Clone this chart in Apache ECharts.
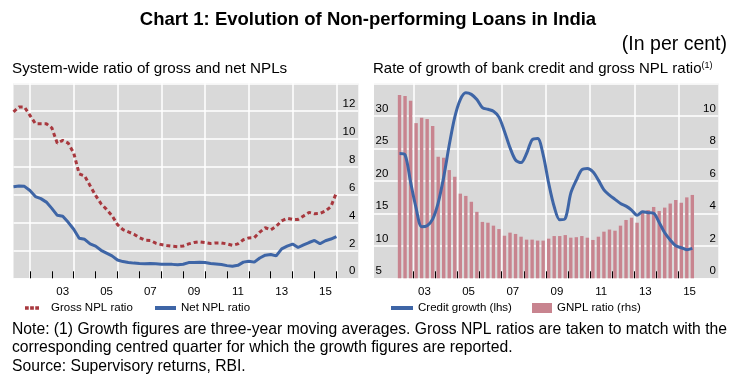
<!DOCTYPE html>
<html><head><meta charset="utf-8">
<script src="https://cdn.jsdelivr.net/npm/echarts@6/dist/echarts.min.js"></script>
<style>html,body{margin:0;padding:0;background:#fff}#c{width:736px;height:383px}</style>
</head><body><div id="c"></div>
<script>
// ---- Left panel: quarterly system-wide NPL ratios (quarter-end) ----
const leftQuarters = [
 "2001Q1","2001Q2","2001Q3","2001Q4","2002Q1","2002Q2","2002Q3","2002Q4",
 "2003Q1","2003Q2","2003Q3","2003Q4","2004Q1","2004Q2","2004Q3","2004Q4",
 "2005Q1","2005Q2","2005Q3","2005Q4","2006Q1","2006Q2","2006Q3","2006Q4",
 "2007Q1","2007Q2","2007Q3","2007Q4","2008Q1","2008Q2","2008Q3","2008Q4",
 "2009Q1","2009Q2","2009Q3","2009Q4","2010Q1","2010Q2","2010Q3","2010Q4",
 "2011Q1","2011Q2","2011Q3","2011Q4","2012Q1","2012Q2","2012Q3","2012Q4",
 "2013Q1","2013Q2","2013Q3","2013Q4","2014Q1","2014Q2","2014Q3","2014Q4",
 "2015Q1","2015Q2","2015Q3","2015Q4"];
const grossNPL = [11.95,12.3,12.3,11.7,11.1,11.1,11.1,10.8,9.7,9.9,
 9.7,9.0,7.5,7.35,6.65,5.95,5.35,4.95,4.5,3.85,
 3.5,3.33,3.17,2.92,2.74,2.72,2.52,2.42,2.35,2.3,
 2.27,2.32,2.47,2.57,2.62,2.57,2.5,2.54,2.54,2.47,
 2.37,2.47,2.77,2.9,2.92,3.32,3.63,3.47,3.73,4.13,
 4.3,4.23,4.23,4.48,4.73,4.63,4.66,4.83,5.15,6.15];
const netNPL = [6.57,6.62,6.6,6.3,5.87,5.72,5.47,5.02,4.52,4.45,
 4.02,3.52,2.88,2.8,2.47,2.31,2.01,1.81,1.61,1.31,
 1.2,1.14,1.09,1.06,1.04,1.07,1.04,1.01,1.01,1.0,
 0.97,1.01,1.13,1.14,1.16,1.13,1.06,1.03,0.99,0.91,
 0.86,0.93,1.16,1.23,1.16,1.46,1.66,1.71,1.61,2.11,
 2.31,2.46,2.21,2.4,2.57,2.72,2.48,2.7,2.82,3.0];

// ---- Right panel: credit growth (3-yr MA) and centred GNPL ratio ----
const rightQuarters = [
 "2002Q2","2002Q3","2002Q4",
 "2003Q1","2003Q2","2003Q3","2003Q4","2004Q1","2004Q2","2004Q3","2004Q4",
 "2005Q1","2005Q2","2005Q3","2005Q4","2006Q1","2006Q2","2006Q3","2006Q4",
 "2007Q1","2007Q2","2007Q3","2007Q4","2008Q1","2008Q2","2008Q3","2008Q4",
 "2009Q1","2009Q2","2009Q3","2009Q4","2010Q1","2010Q2","2010Q3","2010Q4",
 "2011Q1","2011Q2","2011Q3","2011Q4","2012Q1","2012Q2","2012Q3","2012Q4",
 "2013Q1","2013Q2","2013Q3","2013Q4","2014Q1","2014Q2","2014Q3","2014Q4",
 "2015Q1","2015Q2","2015Q3"];
const creditGrowth = [24.2,24.0,19.8,15.8,12.95,13.1,14.1,16.6,20.6,25.5,
 29.8,32.5,33.55,33.3,32.5,31.25,31.0,30.7,29.8,27.6,
 25.1,23.2,22.8,24.2,26.3,26.5,24.0,19.6,16.0,14.0,
 14.2,18.1,20.1,21.7,21.9,21.4,20.1,18.6,17.8,17.15,
 16.5,16.1,15.5,14.7,15.25,15.1,15.0,13.6,12.0,10.9,
 10.0,9.7,9.4,9.6];
const gnplRatio = [11.28,11.22,10.93,9.55,9.88,9.8,9.37,7.48,7.42,6.66,
 6.25,5.21,5.07,4.71,4.09,3.47,3.42,3.24,3.03,2.62,
 2.81,2.73,2.56,2.38,2.38,2.32,2.32,2.44,2.6,2.6,
 2.66,2.5,2.53,2.6,2.5,2.36,2.56,2.87,3.0,2.93,
 3.24,3.59,3.73,3.42,4.16,4.2,4.39,4.14,4.35,4.6,
 4.82,4.65,4.98,5.13];

// ---- Axis ticks / labels ----
const leftTickYears = [2002,2003,2004,2005,2006,2007,2008,2009,2010,2011,2012,2013,2014,2015,2016];
const leftGridYears = [2002,2004,2006,2008,2010,2012,2014,2016];
const rightTickYears = [2003,2004,2005,2006,2007,2008,2009,2010,2011,2012,2013,2014,2015];
const rightGridYears = [2003,2005,2007,2009,2011,2013,2015];
const labelYears = [2003,2005,2007,2009,2011,2013,2015];

const FONT = '"Liberation Sans", Arial, Helvetica, sans-serif';
const GRAY = '#d9d9d9';
const BLUE = '#3e65a6';
const RED = '#a8383e';
const PINK = '#c8848f';

function qEnd(q){ const y = +q.slice(0,4), n = +q.slice(5); return y + n/4; }
function qMid(q){ const y = +q.slice(0,4), n = +q.slice(5); return y + (n-0.5)/4; }

function xAxes(gridIndex, min, max, tickYears, gridYears){
  return [{
    type:'value', gridIndex, min, max, position:'bottom',
    axisLine:{show:false},
    axisTick:{show:true, inside:true, length:7, customValues:tickYears, lineStyle:{color:'#000', width:1}},
    axisLabel:{customValues: labelYears.map(y => y + 0.5),
      formatter: v => String(Math.floor(v) % 100).padStart(2,'0'),
      margin:8, fontSize:11.5, color:'#000', fontFamily:FONT},
    splitLine:{show:false}
  },{
    type:'value', gridIndex, min, max, position:'top',
    axisLine:{show:false},
    axisTick:{show:false, customValues:gridYears},
    axisLabel:{show:false},
    splitLine:{show:true, lineStyle:{color:'#fff', width:1.5}}
  }];
}

const yLabel = (margin) => ({inside:true, margin, showMaxLabel:false, fontSize:11.5, color:'#000',
  fontFamily:FONT, verticalAlign:'bottom', padding:[0,0,1,0]});

const legendText = {fontSize:11.5, color:'#000', fontFamily:FONT};

const chart = echarts.init(document.getElementById('c'), null, {renderer:'canvas'});
chart.setOption({
  animation:false,
  backgroundColor:'#fff',
  textStyle:{fontFamily:FONT},
  title:[
    {text:'Chart 1: Evolution of Non-performing Loans in India', left:'center', top:10, padding:0,
     textStyle:{fontSize:18.5, fontWeight:'bold', color:'#000', fontFamily:FONT}},
    {text:'(In per cent)', right:9, top:35, padding:0,
     textStyle:{fontSize:19.5, fontWeight:'normal', color:'#000', fontFamily:FONT}},
    {text:'System-wide ratio of gross and net NPLs', left:12, top:61, padding:0,
     textStyle:{fontSize:15.2, fontWeight:'normal', color:'#000', fontFamily:FONT}},
    {text:'Rate of growth of bank credit and gross NPL ratio{sup|(1)}', left:373, top:61, padding:0,
     textStyle:{fontSize:15, fontWeight:'normal', color:'#000', fontFamily:FONT,
       rich:{sup:{fontSize:9, verticalAlign:'top', color:'#000', fontFamily:FONT}}}},
    {text:'Note: (1) Growth figures are three-year moving averages. Gross NPL ratios are taken to match with the\ncorresponding centred quarter for which the growth figures are reported.\nSource: Supervisory returns, RBI.',
     left:12, top:320, padding:0,
     textStyle:{fontSize:15.7, lineHeight:18.7, fontWeight:'normal', color:'#000', fontFamily:FONT}}
  ],
  legend:[
    {data:[{name:'Gross NPL ratio', icon:'path://M0,0h4v4h-4z M5.5,0h4v4h-4z M11,0h4v4h-4z'}],
     left:25, top:302, itemWidth:14, itemHeight:4, padding:0,
     itemStyle:{color:RED}, textStyle:Object.assign({padding:[0,0,0,7]}, legendText)},
    {data:[{name:'Net NPL ratio', icon:'rect'}],
     left:155, top:302, itemWidth:21, itemHeight:4, padding:0,
     textStyle:legendText},
    {data:[{name:'Credit growth (lhs)', icon:'rect'}],
     left:391, top:302, itemWidth:22, itemHeight:4, padding:0,
     textStyle:legendText},
    {data:[{name:'GNPL ratio (rhs)', icon:'rect'}],
     left:532, top:302, itemWidth:20, itemHeight:10, padding:0,
     textStyle:legendText}
  ],
  grid:[
    {left:13.5, top:83.3, width:344.8, height:195, show:true, backgroundColor:GRAY, borderWidth:0},
    {left:374, top:83.3, width:344.3, height:195, show:true, backgroundColor:GRAY, borderWidth:0}
  ],
  xAxis:[
    ...xAxes(0, 2001.25, 2017.0, leftTickYears, leftGridYears),
    ...xAxes(1, 2001.22, 2016.8, rightTickYears, rightGridYears)
  ],
  yAxis:[
    {type:'value', gridIndex:0, position:'right', min:0, max:14, interval:2,
     axisLine:{show:false}, axisTick:{show:false}, axisLabel:yLabel(3),
     splitLine:{show:true, lineStyle:{color:'#fff', width:1.5}}},
    {type:'value', gridIndex:1, position:'left', min:5, max:35, interval:5,
     axisLine:{show:false}, axisTick:{show:false}, axisLabel:yLabel(1.5),
     splitLine:{show:true, lineStyle:{color:'#fff', width:1.5}}},
    {type:'value', gridIndex:1, position:'right', min:0, max:12, interval:2,
     axisLine:{show:false}, axisTick:{show:false}, axisLabel:yLabel(2.5),
     splitLine:{show:false}}
  ],
  series:[
    {name:'Gross NPL ratio', type:'line', xAxisIndex:0, yAxisIndex:0, symbol:'none', z:3,
     data: leftQuarters.map((q,i) => [qEnd(q), grossNPL[i]]),
     itemStyle:{color:RED},
     lineStyle:{color:RED, width:3, type:[4,3], cap:'butt'}},
    {name:'Net NPL ratio', type:'line', xAxisIndex:0, yAxisIndex:0, symbol:'none', z:3,
     data: leftQuarters.map((q,i) => [qEnd(q), netNPL[i]]),
     itemStyle:{color:BLUE},
     lineStyle:{color:BLUE, width:3}},
    {name:'GNPL ratio (rhs)', type:'bar', xAxisIndex:2, yAxisIndex:2, barWidth:3.4, z:2,
     data: rightQuarters.map((q,i) => [qMid(q), gnplRatio[i]]),
     itemStyle:{color:PINK}},
    {name:'Credit growth (lhs)', type:'line', xAxisIndex:2, yAxisIndex:1, symbol:'none', z:4,
     smooth:0.3,
     data: rightQuarters.map((q,i) => [qMid(q), creditGrowth[i]]),
     itemStyle:{color:BLUE},
     lineStyle:{color:BLUE, width:3}}
  ]
});
</script></body></html>
